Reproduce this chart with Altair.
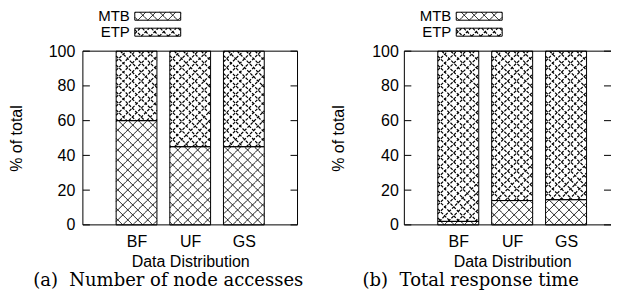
import math
import altair as alt
import pandas as pd

# ---------------- data ----------------
categories = ["BF", "UF", "GS"]
series_names = ["MTB", "ETP"]
mtb_node_accesses = [60, 45, 45]
etp_node_accesses = [40, 55, 55]
mtb_response_time = [2, 14, 14.5]
etp_response_time = [98, 86, 85.5]
y_tick_values = [0, 20, 40, 60, 80, 100]
captions = ["(a)\u00a0 Number of node accesses", "(b)\u00a0 Total response time"]
y_title = "% of total"
x_title = "Data Distribution"

# ---------------- style ----------------
SANS = "Liberation Sans"
SERIF = "DejaVu Serif"
H = 174
BAR_HALF = 0.38
PERIOD = {"MTB": 10.0, "ETP": 9.0}
PHASE = {"MTB": 0.0, "ETP": 4.5}
DASH = {"MTB": [1, 0], "ETP": [3, 1.5]}
WIDTH = {"MTB": 1.0, "ETP": 1.2}


def hatch_px(X0, X1, Y0, Y1, period, phase):
    """45-degree cross-hatch segments clipped to a rectangle, in pixels."""
    out = []
    k0 = math.ceil((Y0 - X1 - phase) / period)
    k1 = math.floor((Y1 - X0 - phase) / period)
    for k in range(k0, k1 + 1):
        c = phase + k * period
        a, b = max(X0, Y0 - c), min(X1, Y1 - c)
        if b - a > 0.3:
            out.append((a, a + c, b, b + c))
    k0 = math.ceil((Y0 + X0 - phase) / period)
    k1 = math.floor((Y1 + X1 - phase) / period)
    for k in range(k0, k1 + 1):
        c = phase + k * period
        a, b = max(X0, c - Y1), min(X1, c - Y0)
        if b - a > 0.3:
            out.append((a, c - a, b, c - b))
    return out


label_expr = "[" + ",".join("'%s'" % c for c in categories) + "][datum.value]"


def panel(mtb, etp, caption, width, px_per_cat, label_pad, caption_x, right_side):
    x_dom = [-1.0, -1.0 + width / px_per_cat]
    sx = px_per_cat
    sy = H / 100.0

    def to_data(px, py_up):
        return px / sx + x_dom[0], py_up / sy

    bars, lines = [], []
    for i, cat in enumerate(categories):
        base = 0.0
        for s, v in zip(series_names, [mtb[i], etp[i]]):
            bars.append(dict(cat=cat, series=s, x0=i - BAR_HALF, x1=i + BAR_HALF,
                             y0=base, y1=base + v))
            X0 = (i - BAR_HALF - x_dom[0]) * sx
            X1 = (i + BAR_HALF - x_dom[0]) * sx
            for a, b, c, d in hatch_px(X0, X1, base * sy, (base + v) * sy,
                                       PERIOD[s], PHASE[s]):
                xa, ya = to_data(a, b)
                xb, yb = to_data(c, d)
                lines.append(dict(series=s, x=xa, y=ya, x2=xb, y2=yb))
            base += v

    # legend swatches: pixel boxes above the plot (x from plot left, heights above plot top)
    leg_px = {"MTB": (52, 98, 31, 39), "ETP": (52, 98, 15, 23)}
    legend_text = []
    for s in series_names:
        x0p, x1p, u0, u1 = leg_px[s]
        Y0, Y1 = H + u0, H + u1
        xa, ya = to_data(x0p, Y0)
        xb, yb = to_data(x1p, Y1)
        bars.append(dict(cat="legend", series=s, x0=xa, x1=xb, y0=ya, y1=yb))
        for a, b, c, d in hatch_px(x0p, x1p, Y0, Y1, PERIOD[s], PHASE[s]):
            p, q = to_data(a, b)
            r, t = to_data(c, d)
            lines.append(dict(series=s, x=p, y=q, x2=r, y2=t))
        tx, ty = to_data(47, H + u0 - 1)
        legend_text.append(dict(series=s, tx=tx, ty=ty))

    bars = pd.DataFrame(bars)
    lines = pd.DataFrame(lines)
    legend_text = pd.DataFrame(legend_text)

    xscale = alt.Scale(domain=x_dom, nice=False, zero=False)
    yscale = alt.Scale(domain=[0, 100], nice=False, zero=False)

    xaxis = alt.Axis(values=[0, 1, 2], labelExpr=label_expr, ticks=False, domain=False,
                     grid=False, labelFont=SANS, labelFontSize=16, labelColor="black",
                     labelBaseline="alphabetic", labelPadding=22, labelAngle=0,
                     title=x_title, titleFont=SANS, titleFontSize=16,
                     titleFontWeight="normal", titleColor="black", titleY=42,
                     titleX=(1 - x_dom[0]) * sx, titleAlign="center",
                     titleBaseline="alphabetic")
    yaxis = alt.Axis(values=y_tick_values, ticks=False, domain=False, grid=False,
                     labelFont=SANS, labelFontSize=16, labelColor="black",
                     labelPadding=label_pad, title=y_title, titleFont=SANS,
                     titleFontSize=16, titleFontWeight="normal", titleColor="black",
                     titleX=-61, titleY=H / 2, titleBaseline="alphabetic",
                     titleAlign="center")

    def X(f):
        return alt.X(f, scale=xscale, axis=xaxis)

    def Y(f):
        return alt.Y(f, scale=yscale, axis=yaxis)

    base_bars = alt.Chart(bars).mark_rect(color="white").encode(
        x=X("x0:Q"), x2="x1:Q", y=Y("y0:Q"), y2="y1:Q")
    hatch_layers = []
    for s in series_names:
        hatch_layers.append(
            alt.Chart(lines[lines.series == s]).mark_rule(
                color="black", strokeWidth=WIDTH[s], strokeDash=DASH[s], clip=False).encode(
                x=X("x:Q"), x2="x2:Q", y=Y("y:Q"), y2="y2:Q"))
    outline = alt.Chart(bars).mark_rect(fillOpacity=0, stroke="black", strokeWidth=1).encode(
        x=X("x0:Q"), x2="x1:Q", y=Y("y0:Q"), y2="y1:Q")
    leg_labels = alt.Chart(legend_text).mark_text(
        font=SANS, fontSize=15, align="right", baseline="alphabetic", color="black").encode(
        x=X("tx:Q"), y=Y("ty:Q"), text="series:N")

    ticks_df = pd.DataFrame({"t": y_tick_values})
    tick_l = alt.Chart(ticks_df).mark_rule(color="black").encode(
        y=Y("t:Q"), x=alt.value(0), x2=alt.value(7))
    tick_r = alt.Chart(ticks_df).mark_rule(color="black").encode(
        y=Y("t:Q"), x=alt.value(width - 7), x2=alt.value(width))

    one = pd.DataFrame({"a": [0]})
    frame = [
        alt.Chart(one).mark_rule(color="black").encode(x=alt.value(0), x2=alt.value(width), y=alt.value(0)),
        alt.Chart(one).mark_rule(color="black").encode(x=alt.value(0), x2=alt.value(width), y=alt.value(H)),
        alt.Chart(one).mark_rule(color="black").encode(x=alt.value(0), y=alt.value(0), y2=alt.value(H)),
    ]
    if right_side:
        frame.append(alt.Chart(one).mark_rule(color="black").encode(
            x=alt.value(width), y=alt.value(0), y2=alt.value(H)))

    cap = alt.Chart(one).mark_text(font=SERIF, fontSize=18, align="center",
                                   baseline="alphabetic", color="black").encode(
        x=alt.value(caption_x), y=alt.value(235), text=alt.value(caption))

    return alt.layer(base_bars, *hatch_layers, outline, leg_labels, tick_l, tick_r,
                     *frame, cap).properties(width=width, height=H)


left = panel(mtb_node_accesses, etp_node_accesses, captions[0], 215, 53.75, 8, 85.5, True)
right = panel(mtb_response_time, etp_response_time, captions[1], 207, 54.0, 6, 66.5, False)

chart = alt.hconcat(left, right, spacing=107, bounds="flush").properties(
    padding={"left": 0, "top": 0, "right": 0, "bottom": 0}
).configure_view(stroke="transparent")

chart.save("out.html", embed_options={"renderer": "svg", "actions": False})
